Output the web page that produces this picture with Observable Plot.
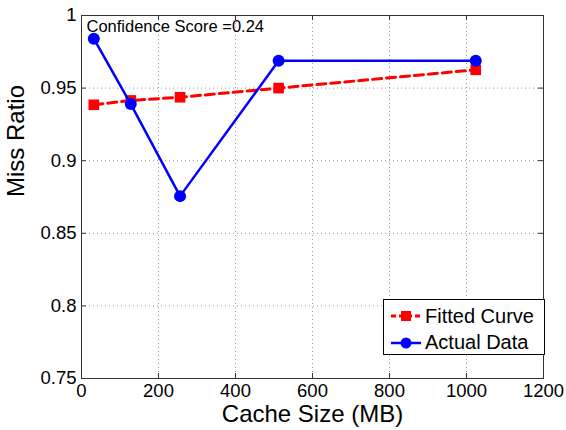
<!DOCTYPE html>
<html>
<head>
<meta charset="utf-8">
<script src="https://cdn.jsdelivr.net/npm/d3@7"></script>
<script src="https://cdn.jsdelivr.net/npm/@observablehq/plot@0.6"></script>
<style>
  body { margin: 0; background: #fff; }
  #wrap { position: relative; width: 566px; height: 430px; font-family: "Liberation Sans", Arial, sans-serif; }
  #legend { position: absolute; left: 383px; top: 299px; width: 160px; height: 54px; background: #fff; border: 1px solid #000; font-size: 20px; color: #000; }
  .row { position: absolute; left: 0; height: 24px; display: flex; align-items: center; }
  .row svg { margin-left: 6px; margin-right: 3px; }
</style>
</head>
<body>
<div id="wrap"></div>
<script>
const cacheSizes = [32, 128, 256, 512, 1024];
const fittedCurve = [0.9385, 0.9415, 0.9437, 0.950, 0.9626];
const actualData = [0.984, 0.939, 0.8756, 0.9688, 0.9688];
const xTicks = [0, 200, 400, 600, 800, 1000, 1200];
const yTicks = [0.75, 0.8, 0.85, 0.9, 0.95, 1];
const seriesNames = ["Fitted Curve", "Actual Data"];
const annotation = ["Confidence Score =0.24"];
const xLabel = "Cache Size (MB)";
const yLabel = "Miss Ratio";

const fitted = cacheSizes.map((x, i) => ({x, y: fittedCurve[i]}));
const actual = cacheSizes.map((x, i) => ({x, y: actualData[i]}));

const W = 566, H = 430, mL = 81, mR = 23, mT = 15, mB = 52;
const innerW = W - mL - mR, innerH = H - mT - mB;
const tickLen = 5;
const xFmt = d => String(d);
const yFmt = d => String(+d.toFixed(2));

const chart = Plot.plot({
  width: W, height: H,
  marginLeft: mL, marginRight: mR, marginTop: mT, marginBottom: mB,
  style: {fontFamily: "Liberation Sans, Arial, sans-serif", fontSize: "18.5px", color: "#000", background: "#fff"},
  x: {domain: [0, 1200]},
  y: {domain: [0.75, 1]},
  marks: [
    Plot.ruleX(xTicks.slice(1, -1), {x: d => d, stroke: "#999", strokeDasharray: "1,3", strokeWidth: 1}),
    Plot.ruleY(yTicks.slice(1, -1), {y: d => d, stroke: "#999", strokeDasharray: "1,3", strokeWidth: 1}),
    Plot.ruleX(xTicks, {x: d => d, stroke: "#333", insetTop: innerH - tickLen}),
    Plot.ruleX(xTicks, {x: d => d, stroke: "#333", insetBottom: innerH - tickLen}),
    Plot.ruleY(yTicks, {y: d => d, stroke: "#333", insetRight: innerW - tickLen}),
    Plot.ruleY(yTicks, {y: d => d, stroke: "#333", insetLeft: innerW - tickLen}),
    Plot.frame({stroke: "#333", strokeWidth: 1}),
    Plot.axisX(xTicks, {tickSize: 0, tickPadding: 5, label: null, tickFormat: xFmt, fontSize: 18.5}),
    Plot.axisY(yTicks, {tickSize: 0, tickPadding: 5, label: null, tickFormat: yFmt, fontSize: 18.5}),
    Plot.line(fitted, {x: "x", y: "y", stroke: "#ff0000", strokeWidth: 3, strokeDasharray: "9,5"}),
    Plot.dot(fitted, {x: "x", y: "y", symbol: "square", r: 6, fill: "#ff0000", stroke: "none"}),
    Plot.line(actual, {x: "x", y: "y", stroke: "#0000ff", strokeWidth: 2.5}),
    Plot.dot(actual, {x: "x", y: "y", symbol: "circle", r: 6, fill: "#0000ff", stroke: "none"}),
    Plot.text(annotation, {text: d => d, frameAnchor: "top-left", dx: 5, dy: 11, textAnchor: "start", lineAnchor: "middle", fontSize: 16.5}),
    Plot.text([xLabel], {text: d => d, frameAnchor: "bottom", dy: 36, lineAnchor: "middle", fontSize: 24}),
    Plot.text([yLabel], {text: d => d, frameAnchor: "left", dx: -65, rotate: -90, lineAnchor: "middle", fontSize: 24})
  ]
});
const wrap = document.getElementById("wrap");
wrap.appendChild(chart);

const legend = document.createElement("div");
legend.id = "legend";
const styles = [
  {color: "#ff0000", dash: "5,3", marker: "square", width: 3},
  {color: "#0000ff", dash: null, marker: "circle", width: 2.5}
];
seriesNames.forEach((name, i) => {
  const s = styles[i];
  const row = document.createElement("div");
  row.className = "row";
  row.style.top = (4 + i * 26.5) + "px";
  const marker = s.marker === "square"
    ? `<rect x="11" y="4" width="10" height="10" fill="${s.color}"/>`
    : `<circle cx="16" cy="9" r="5.5" fill="${s.color}"/>`;
  row.innerHTML = `<svg width="32" height="18"><line x1="1" x2="31" y1="9" y2="9" stroke="${s.color}" stroke-width="${s.width}" ${s.dash ? `stroke-dasharray="${s.dash}"` : ""}/>${marker}</svg><span>${name}</span>`;
  legend.appendChild(row);
});
wrap.appendChild(legend);
</script>
</body>
</html>
